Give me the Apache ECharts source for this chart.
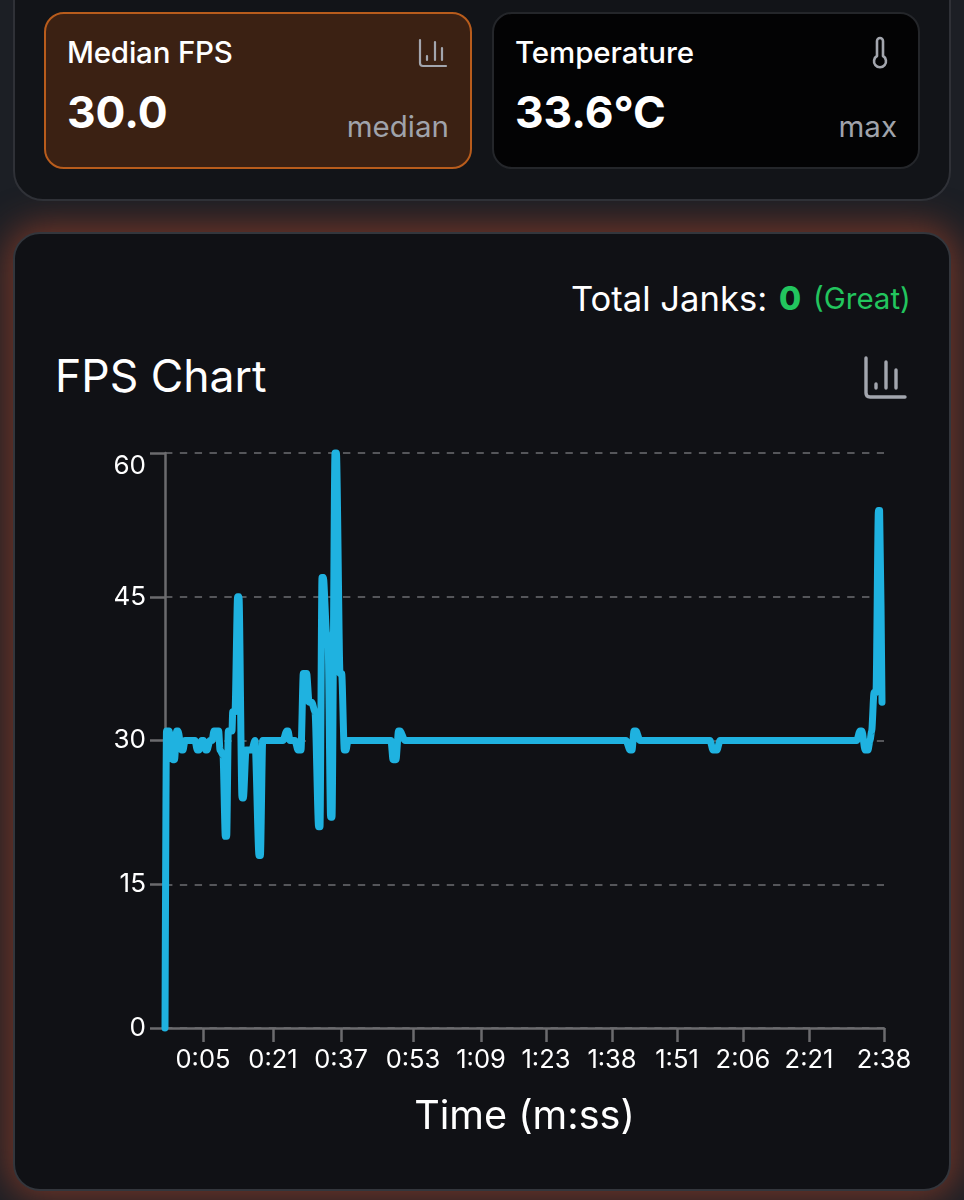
<!DOCTYPE html>
<html><head><meta charset="utf-8">
<script src="https://cdn.jsdelivr.net/npm/echarts@6/dist/echarts.min.js"></script>
<style>
html,body{margin:0;padding:0;width:964px;height:1200px;overflow:hidden;background:#1c1f25;font-family:Inter,sans-serif;color:#fff}
.abs{position:absolute;white-space:nowrap;line-height:1}
.panel{position:absolute;left:13px;top:-40px;width:938px;height:241px;box-sizing:border-box;background:#121418;border:2px solid #2f3137;border-radius:30px}
.card{position:absolute;top:12px;height:157px;width:428px;box-sizing:border-box;border-radius:20px}
#c1{left:44px;background:#3b2113;border:2px solid #b85c1c}
#c2{left:492px;background:#030304;border:2px solid #24262a}
#chartCard{position:absolute;left:13px;top:232px;width:938px;height:959px;box-sizing:border-box;background:#101115;border:2.5px solid #33363c;border-radius:27px;box-shadow:0 0 36px 6px rgba(140,60,40,.8)}
#chart{position:absolute;left:0;top:0;width:964px;height:1200px}
svg{position:absolute;fill:none;stroke:#a3a6ae;stroke-linecap:round;stroke-linejoin:round}
</style></head><body>
<div id="chartCard"></div>
<div class="panel"></div>
<div class="card" id="c1"></div><div class="card" id="c2"></div>
<div class="abs" style="left:67px;top:38px;font-size:29.5px;font-weight:500;letter-spacing:-.2px">Median FPS</div>
<div class="abs" style="left:67px;top:90px;font-size:44.3px;font-weight:700">30.0</div>
<div class="abs" style="right:515px;top:112px;font-size:29.5px;color:#a0a3ab">median</div>
<div class="abs" style="left:515px;top:38px;font-size:29.5px;font-weight:500;letter-spacing:-.1px">Temperature</div>
<div class="abs" style="left:515px;top:90px;font-size:44.3px;font-weight:700">33.6°C</div>
<div class="abs" style="right:67px;top:112px;font-size:29.5px;color:#a0a3ab">max</div>
<svg style="left:418px;top:38px" width="30" height="30" stroke-width="2.2"><path d="M2 2V25Q2 28 5 28H28M9 22V18M17 22V4M24 22V10"/></svg>
<svg style="left:870px;top:36px" width="20" height="34" stroke-width="2.6"><path d="M7 5a3 3 0 0 1 6 0V20a6 6 0 1 1-6 0Z"/></svg>
<div class="abs" style="left:571px;top:281px;font-size:34.6px;font-weight:400">Total Janks:</div>
<div class="abs" style="left:779px;top:283px;font-size:32px;font-weight:800;color:#22c55e">0</div>
<div class="abs" style="left:813px;top:284px;font-size:29.5px;font-weight:400;color:#22c55e">(Great)</div>
<div class="abs" style="left:55px;top:354px;font-size:44.5px;font-weight:400">FPS Chart</div>
<svg style="left:864px;top:356px" width="44" height="44" stroke-width="3.4"><path d="M2 2V37Q2 41 6 41H41M12 32V28M22 32V6M32 32V14"/></svg>
<div id="chart"></div>
<script>
const sampleX = [0,1.5,4,7.7,9.5,11.7,13,16.6,18,20,30,32.3,34,36.7,38.5,40.7,42,45,47,49,53.7,55,58,60.3,61.7,63.3,67,67.7,70,72.6,74,77,78.4,81,86.7,90,94,95.4,97.7,118,121.7,123,125,130,133,136,138.3,141.7,144,146.7,150,153.6,155,157,158.4,161.7,163,165.6,167,170,171.4,175,176.7,179.3,181,183,226,228,231,233.5,235,240,461,465,467,469,471,475,545,548,552,555,691.7,695,697,700,703,705,706.7,709,711,713.4,714.6,717];
const fpsValues = [0,31,31,28,28,31,31,29,29,30,30,29,29,30,30,29,29,30,30,31,31,29,28.5,20,20,31,31,33,33,45,45,24,24,29,29,30,18,18,30,30,31,31,30,30,29,29,37,37,34,34,33,21,21,47,47,41,41,22,22,60,60,37,37,29,29,30,30,28,28,31,31,30,30,29,29,31,31,30,30,29,29,30,30,31,31,29,29,30,31,35,35,54,54,34];
const tickX = [38,108,176,248,316,381,447,512,578,644,719];
const tickLabels = ['0:05','0:21','0:37','0:53','1:09','1:23','1:38','1:51','2:06','2:21','2:38'];
const yTicks = [0,15,30,45,60];
const pts = sampleX.map((x,i)=>[x,fpsValues[i]]);
const chart = echarts.init(document.getElementById('chart'),null,{renderer:'canvas',width:964,height:1200});
chart.setOption({
  animation:false, backgroundColor:'transparent',
  grid:{left:165,top:453,width:719,height:575,containLabel:false},
  xAxis:{type:'value',min:0,max:719,name:'Time (m:ss)',nameLocation:'middle',nameGap:69,
    nameTextStyle:{color:'#fff',fontSize:39.6,fontFamily:'Inter'},
    axisLine:{show:true,lineStyle:{color:'#6b6b6e',width:2.5}},
    axisTick:{show:true,length:14,customValues:tickX,lineStyle:{color:'#6b6b6e',width:2.5}},
    axisLabel:{show:true,customValues:tickX,margin:19,color:'#fff',fontSize:25.5,fontFamily:'Inter',
      formatter:v=>tickLabels[tickX.indexOf(v)]||'',showMinLabel:true,showMaxLabel:true,hideOverlap:false},
    splitLine:{show:false}},
  yAxis:{type:'value',min:0,max:60,interval:15,
    axisLine:{show:true,lineStyle:{color:'#6b6b6e',width:2.5}},
    axisTick:{show:true,length:15,lineStyle:{color:'#6b6b6e',width:2.5}},
    axisLabel:{margin:19,color:'#fff',fontSize:26,fontFamily:'Inter',verticalAlignMaxLabel:'top',
      customValues:yTicks},
    splitLine:{show:true,lineStyle:{color:'#55565a',width:2,type:[7.4,7.43]}}},
  series:[{type:'line',data:pts,showSymbol:false,smooth:0.25,smoothMonotone:'x',clip:false,
    lineStyle:{color:'#1fb2e0',width:7,cap:'round',join:'round'},z:5}]
});
</script></body></html>
